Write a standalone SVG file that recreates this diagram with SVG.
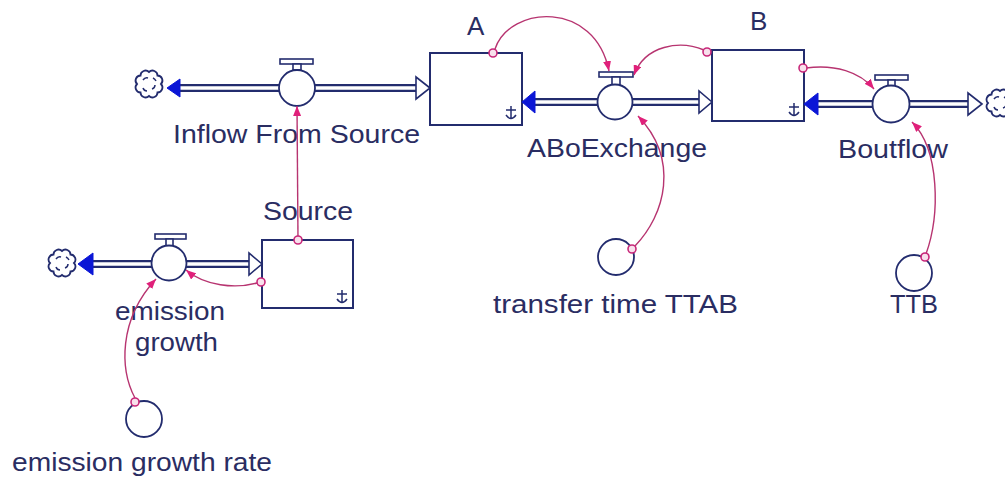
<svg xmlns="http://www.w3.org/2000/svg" width="1005" height="482" viewBox="0 0 1005 482">
<style>
.box{fill:#fff;stroke:#232c6e;stroke-width:2}
.pipeo{stroke:#232c6e;stroke-width:8;fill:none}
.pipei{stroke:#fff;stroke-width:3.5;fill:none}
.valve{fill:#fff;stroke:#232c6e;stroke-width:1.8}
.bar{fill:#fff;stroke:#232c6e;stroke-width:1.6}
.fa{fill:#0b16d6;stroke:#0b16d6;stroke-width:1}
.ha{fill:#fff;stroke:#232c6e;stroke-width:1.6}
.cloud{fill:#fff;stroke:#232c6e;stroke-width:1.8}
.cloudm{fill:none;stroke:#232c6e;stroke-width:1.5}
.aux{fill:#fff;stroke:#232c6e;stroke-width:1.8}
.lbl{font-family:"Liberation Sans",Arial,sans-serif;font-size:26px;fill:#2a2d62}
.con{fill:none;stroke:#b73470;stroke-width:1.4}
.dot{fill:#f8e0ec;stroke:#c8287a;stroke-width:1.6}
.glyph{fill:none;stroke:#232c6e;stroke-width:1.5}
</style>
<defs>
<marker id="arr" viewBox="0 0 10 8" refX="10" refY="4" markerWidth="10" markerHeight="8" markerUnits="userSpaceOnUse" orient="auto"><path d="M0,0 L10,4 L0,8 z" fill="#e0207a"/></marker>
<g id="cloudshape">
<path class="cloud" d="M12,0 A5,5 0 0 1 8.49,8.49 A5,5 0 0 1 0,12 A5,5 0 0 1 -8.49,8.49 A5,5 0 0 1 -12,0 A5,5 0 0 1 -8.49,-8.49 A5,5 0 0 1 0,-12 A5,5 0 0 1 8.49,-8.49 A5,5 0 0 1 12,0 Z"/>
<path class="cloudm" d="M-6,-4 q2,-3 5,-2 M3,5 q3,-1 3,-4 M-6,4 q1,3 4,3 M4,-6 q2,1 3,3"/>
</g>
<path id="stockglyph" class="glyph" d="M0,-7 V6 M-5,-3 H5 M-5,2 Q0,9 5,2"/>
</defs>
<rect width="1005" height="482" fill="#fff"/>

<g id="flow-inflow-from-source">
<path class="pipeo" d="M180,88 H416"/>
<path class="pipei" d="M178,88 H417"/>
<polygon class="fa" points="167,88 180,79 180,97"/>
<polygon class="ha" points="430,88 416,77 416,99"/>
<use href="#cloudshape" x="149" y="84"/>
<rect class="bar" x="280" y="59" width="33" height="5"/>
<rect class="bar" x="293" y="64" width="8" height="6"/>
<circle class="valve" cx="297" cy="88" r="18"/>
<text class="lbl" x="173" y="143" textLength="247" lengthAdjust="spacingAndGlyphs">Inflow From Source</text>
</g>

<g id="stock-A">
<rect class="box" x="430" y="53" width="92" height="72"/>
<use href="#stockglyph" x="511" y="113"/>
<text class="lbl" x="467" y="35">A</text>
</g>

<g id="flow-ABoExchange">
<path class="pipeo" d="M535,102 H700"/>
<path class="pipei" d="M533,102 H701"/>
<polygon class="fa" points="522,102 535,91 535,113"/>
<polygon class="ha" points="712,102 699,91 699,113"/>
<rect class="bar" x="599" y="72" width="34" height="5"/>
<rect class="bar" x="612" y="77" width="8" height="8"/>
<circle class="valve" cx="615" cy="102" r="17.5"/>
<text class="lbl" x="527" y="157" textLength="180" lengthAdjust="spacingAndGlyphs">ABoExchange</text>
</g>

<g id="stock-B">
<rect class="box" x="712" y="50" width="92" height="71"/>
<use href="#stockglyph" x="794" y="110"/>
<text class="lbl" x="750" y="30">B</text>
</g>

<g id="flow-Boutflow">
<path class="pipeo" d="M818,104 H969"/>
<path class="pipei" d="M816,104 H970"/>
<polygon class="fa" points="804,104 818,93 818,115"/>
<polygon class="ha" points="982,104 968,93 968,115"/>
<use href="#cloudshape" x="1000" y="103"/>
<rect class="bar" x="875" y="75" width="33" height="5"/>
<rect class="bar" x="888" y="80" width="7" height="6"/>
<circle class="valve" cx="891" cy="104" r="18.5"/>
<text class="lbl" x="838" y="158" textLength="110" lengthAdjust="spacingAndGlyphs">Boutflow</text>
</g>

<g id="stock-Source">
<rect class="box" x="262" y="240" width="91" height="68"/>
<use href="#stockglyph" x="342" y="297"/>
<text class="lbl" x="263" y="220" textLength="90" lengthAdjust="spacingAndGlyphs">Source</text>
</g>

<g id="flow-emission-growth">
<path class="pipeo" d="M93,264 H250"/>
<path class="pipei" d="M91,264 H251"/>
<polygon class="fa" points="78,264 93,253 93,275"/>
<polygon class="ha" points="262,264 249,253 249,275"/>
<use href="#cloudshape" x="62" y="263"/>
<rect class="bar" x="155" y="234" width="31" height="5"/>
<rect class="bar" x="166" y="239" width="7" height="7"/>
<circle class="valve" cx="169" cy="263" r="17.5"/>
<text class="lbl" x="115" y="320" textLength="110" lengthAdjust="spacingAndGlyphs">emission</text>
<text class="lbl" x="135" y="351" textLength="83" lengthAdjust="spacingAndGlyphs">growth</text>
</g>

<g id="aux-emission-growth-rate">
<circle class="aux" cx="144" cy="419" r="18"/>
<text class="lbl" x="12" y="471" textLength="260" lengthAdjust="spacingAndGlyphs">emission growth rate</text>
</g>

<g id="aux-transfer-time-TTAB">
<circle class="aux" cx="616" cy="257" r="18"/>
<text class="lbl" x="493" y="313" textLength="245" lengthAdjust="spacingAndGlyphs">transfer time TTAB</text>
</g>

<g id="aux-TTB">
<circle class="aux" cx="914" cy="273" r="18"/>
<text class="lbl" x="890" y="313" textLength="48" lengthAdjust="spacingAndGlyphs">TTB</text>
</g>

<g id="connectors">
<path class="con" marker-end="url(#arr)" d="M298,240 L297,106"/>
<path class="con" marker-end="url(#arr)" d="M495,49 C510,5 595,0 609,71"/>
<path class="con" marker-end="url(#arr)" d="M704,50 C680,40 645,45 634,75"/>
<path class="con" marker-end="url(#arr)" d="M806,68 C835,64 860,72 874,89"/>
<path class="con" marker-end="url(#arr)" d="M635,246 C665,215 680,160 638,116"/>
<path class="con" marker-end="url(#arr)" d="M926,254 C940,215 940,150 912,122"/>
<path class="con" marker-end="url(#arr)" d="M257,283 C235,289 205,286 186,270"/>
<path class="con" marker-end="url(#arr)" d="M135,398 C120,370 118,320 156,279"/>
<circle class="dot" cx="298" cy="240" r="4"/>
<circle class="dot" cx="261" cy="282" r="4"/>
<circle class="dot" cx="493" cy="53" r="4"/>
<circle class="dot" cx="707" cy="52" r="4"/>
<circle class="dot" cx="803" cy="68" r="4"/>
<circle class="dot" cx="632" cy="249" r="4"/>
<circle class="dot" cx="925" cy="257" r="4"/>
<circle class="dot" cx="135" cy="402" r="4"/>
</g>
</svg>
